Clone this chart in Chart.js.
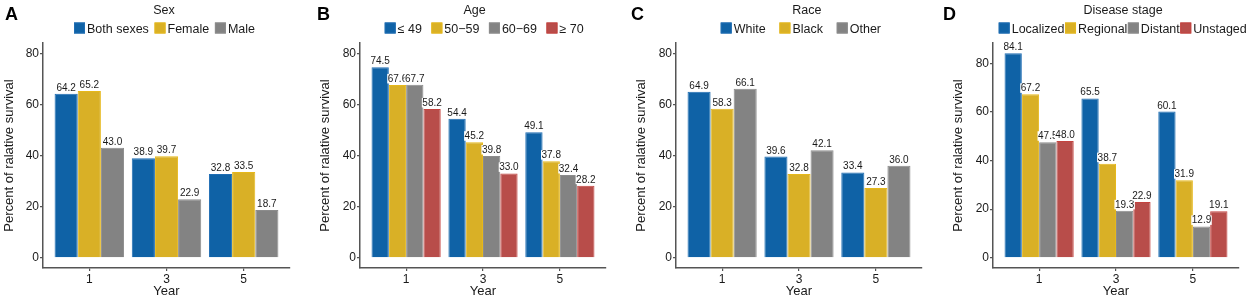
<!DOCTYPE html>
<html><head><meta charset="utf-8">
<script src="https://cdn.jsdelivr.net/npm/chart.js@4.4.1/dist/chart.umd.min.js"></script>
<style>
html,body{margin:0;padding:0;background:#fff;width:1248px;height:302px;overflow:hidden}
.p{position:absolute;top:0;width:312px;height:302px}
canvas{display:block}
</style></head><body>
<div class="p" style="left:0"><canvas id="cA" width="312" height="302"></canvas></div>
<div class="p" style="left:312px"><canvas id="cB" width="312" height="302"></canvas></div>
<div class="p" style="left:624px"><canvas id="cC" width="312" height="302"></canvas></div>
<div class="p" style="left:936px"><canvas id="cD" width="312" height="302"></canvas></div>
<script>
// ---------- data ----------
const years = ['1', '3', '5'];
const yTicks = [0, 20, 40, 60, 80];

const sexGroups = ['Both sexes', 'Female', 'Male'];
const sexBoth = [64.2, 38.9, 32.8];
const sexFemale = [65.2, 39.7, 33.5];
const sexMale = [43.0, 22.9, 18.7];

const ageGroups = ['≤ 49', '50−59', '60−69', '≥ 70'];
const age49 = [74.5, 54.4, 49.1];
const age5059 = [67.6, 45.2, 37.8];
const age6069 = [67.7, 39.8, 32.4];
const age70 = [58.2, 33.0, 28.2];

const raceGroups = ['White', 'Black', 'Other'];
const raceWhite = [64.9, 39.6, 33.4];
const raceBlack = [58.3, 32.8, 27.3];
const raceOther = [66.1, 42.1, 36.0];

const stageGroups = ['Localized', 'Regional', 'Distant', 'Unstaged'];
const stageLocalized = [84.1, 65.5, 60.1];
const stageRegional = [67.2, 38.7, 31.9];
const stageDistant = [47.5, 19.3, 12.9];
const stageUnstaged = [48.0, 22.9, 19.1];

// ---------- styles ----------
const FILL = ['#0F62A6', '#D9B026', '#838383', '#B84D4A'];
const EDGE = ['#1F6DB3', '#E6B81A', '#8C8C8C', '#C4433F'];
const AX = '#555555';
const TXT = '#1a1a1a';
const FAM = '"Liberation Sans", Arial, Helvetica, sans-serif';

const panels = [
  { id: 'cA', letter: 'A', title: 'Sex', groups: sexGroups, series: [sexBoth, sexFemale, sexMale],
    yMin: -4, yMax: 84, areaLeft: 43, padRight: 22, yTitlePad: 1.5, letterX: 5, titleX: 164, legL: 74, legR: 255 },
  { id: 'cB', letter: 'B', title: 'Age', groups: ageGroups, series: [age49, age5059, age6069, age70],
    yMin: -4, yMax: 84, areaLeft: 48, padRight: 18, yTitlePad: 5.5, letterX: 5, titleX: 162.5, legL: 72.7, legR: 271.7 },
  { id: 'cC', letter: 'C', title: 'Race', groups: raceGroups, series: [raceWhite, raceBlack, raceOther],
    yMin: -4, yMax: 84, areaLeft: 52, padRight: 14, yTitlePad: 10, letterX: 7, titleX: 182.8, legL: 96.7, legR: 257 },
  { id: 'cD', letter: 'D', title: 'Disease stage', groups: stageGroups, series: [stageLocalized, stageRegional, stageDistant, stageUnstaged],
    yMin: -4.205, yMax: 88.305, areaLeft: 57, padRight: 9, yTitlePad: 14.5, letterX: 7, titleX: 187, legL: 62.7, legR: 305 }
];

// header: panel letter, legend title, legend
const headerPlugin = {
  id: 'header',
  afterDraw(chart) {
    const cfg = chart.config.options.plugins.header;
    const ctx = chart.ctx;
    ctx.save();
    ctx.fillStyle = '#000';
    ctx.textBaseline = 'alphabetic';
    ctx.textAlign = 'left';
    ctx.font = 'bold 18px ' + FAM;
    ctx.fillText(cfg.letter, cfg.letterX, 20);
    ctx.font = '12.5px ' + FAM;
    ctx.fillStyle = TXT;
    ctx.textAlign = 'center';
    ctx.fillText(cfg.title, cfg.titleX, 14);
    // legend
    ctx.textAlign = 'left';
    const box = 11, gapTxt = 2;
    const items = chart.data.datasets.map((d, i) => ({ label: d.label, fill: d.backgroundColor, edge: d.borderColor, w: box + gapTxt + ctx.measureText(d.label).width }));
    const sum = items.reduce((a, b) => a + b.w, 0);
    const gap = items.length > 1 ? Math.max(0.5, ((cfg.legR - cfg.legL) - sum) / (items.length - 1)) : 0;
    let x = cfg.legL;
    items.forEach(it => {
      ctx.fillStyle = it.fill;
      ctx.fillRect(x, 22.5, box, box);
      ctx.strokeStyle = it.edge;
      ctx.lineWidth = 1;
      ctx.strokeRect(x + 0.5, 23, box - 1, box - 1);
      ctx.fillStyle = TXT;
      ctx.fillText(it.label, x + box + gapTxt, 32.5);
      x += it.w + gap;
    });
    ctx.restore();
  }
};

// value labels above bars
const labelPlugin = {
  id: 'vlabels',
  afterDatasetsDraw(chart) {
    const ctx = chart.ctx;
    ctx.save();
    ctx.font = '10px ' + FAM;
    ctx.textAlign = 'center';
    ctx.textBaseline = 'alphabetic';
    const n = chart.data.datasets.length;
    const nCat = chart.data.datasets[0].data.length;
    for (let j = 0; j < nCat; j++) {
      for (let i = 0; i < n; i++) {
        const el = chart.getDatasetMeta(i).data[j];
        const v = chart.data.datasets[i].data[j].y;
        const t = v.toFixed(1);
        const w = ctx.measureText(t).width;
        const by = el.y - 3;
        ctx.fillStyle = '#fff';
        ctx.fillRect(el.x - w / 2 - 0.5, by - 8, w + 1, 9.5);
        ctx.fillStyle = TXT;
        ctx.fillText(t, el.x, by);
      }
    }
    ctx.restore();
  }
};

function makeChart(p) {
  const datasets = p.series.map((vals, i) => ({
    label: p.groups[i],
    data: vals.map((v, j) => ({ x: j, y: v })),
    backgroundColor: FILL[i],
    borderColor: EDGE[i],
    borderWidth: 1,
    categoryPercentage: 0.9,
    barPercentage: 1.0
  }));
  new Chart(document.getElementById(p.id), {
    type: 'bar',
    data: { datasets },
    options: {
      responsive: false,
      animation: false,
      devicePixelRatio: 1,
      layout: { padding: { top: 43, right: p.padRight, left: 0, bottom: 0 } },
      plugins: {
        legend: { display: false },
        tooltip: { enabled: false },
        title: { display: false },
        header: { letter: p.letter, letterX: p.letterX, title: p.title, titleX: p.titleX, legL: p.legL, legR: p.legR }
      },
      scales: {
        x: {
          type: 'linear', offset: false, min: -0.6, max: 2.6,
          afterBuildTicks: s => { s.ticks = years.map((_, i) => ({ value: i })); },
          afterFit: s => { s.height = 34; },
          ticks: { callback: v => years[v], font: { family: FAM, size: 12 }, color: TXT, padding: 1, autoSkip: false, maxRotation: 0 },
          grid: { display: true, drawOnChartArea: false, drawTicks: true, tickLength: 3, color: AX, lineWidth: 1.2, offset: false },
          border: { display: true, color: AX, width: 1.5 },
          title: { display: true, text: 'Year', font: { family: FAM, size: 13 }, color: TXT, padding: { top: 0, bottom: 3 } }
        },
        y: {
          min: p.yMin, max: p.yMax,
          afterBuildTicks: s => { s.ticks = yTicks.map(v => ({ value: v })); },
          afterFit: s => { s.width = p.areaLeft; },
          ticks: { font: { family: FAM, size: 12 }, color: TXT, padding: 1 },
          grid: { display: true, drawOnChartArea: false, drawTicks: true, tickLength: 3, color: AX, lineWidth: 1.2 },
          border: { display: true, color: AX, width: 1.5 },
          title: { display: true, text: 'Percent of ralative survival', font: { family: FAM, size: 13 }, color: TXT, padding: { top: p.yTitlePad, bottom: 0 } }
        }
      }
    },
    plugins: [headerPlugin, labelPlugin]
  });
}
panels.forEach(makeChart);
</script>
</body></html>
